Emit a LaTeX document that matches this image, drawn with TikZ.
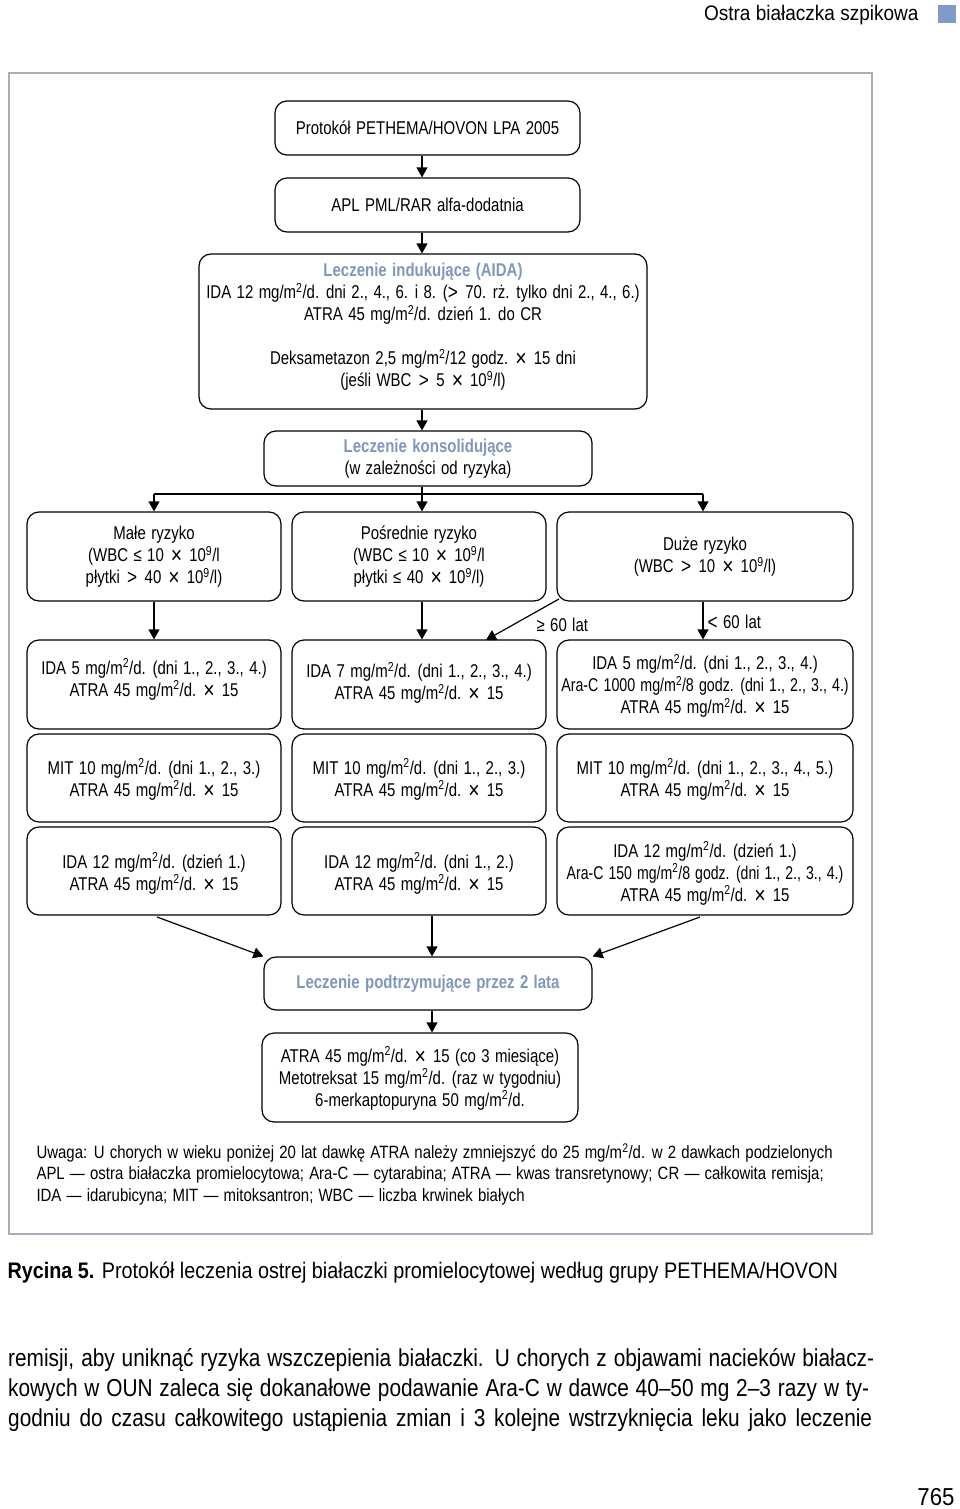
\documentclass[tikz,border=0pt]{standalone}
\usepackage{fontspec}
\setmainfont{Liberation Sans}[FakeStretch=0.81, WordSpace=1.3]
\newfontfamily\bodyfont{Liberation Sans}[FakeStretch=0.85]
\newfontfamily\hdrfont{Liberation Sans}[FakeStretch=0.905]
\newfontfamily\capfont{Liberation Sans}[FakeStretch=0.88]
\newfontfamily\notefont{Liberation Sans}[FakeStretch=0.84, WordSpace=1.25]
\usetikzlibrary{arrows.meta,calc}
\definecolor{ttl}{HTML}{7F98BA}
\definecolor{frm}{HTML}{A8AFBA}
\definecolor{sq}{HTML}{7F9BC8}
\newcommand{\sqm}{m\textsuperscript{2}}
\newcommand{\tnine}{10\textsuperscript{9}}
\newcommand{\bgt}{\raisebox{-0.05em}{\scalebox{1.15}{>}}}
\newcommand{\gt}{\hspace{0.4em}\bgt\hspace{0.4em}}
\newcommand{\tm}{\hspace{0.38em}\raisebox{-0.1em}{\scalebox{1.3}{×}}\hspace{0.38em}}
\newcommand{\bx}[6]{%
  \node[box, minimum width=#3pt, minimum height=#4pt] (#1) at (#2) {};
  \node[txt] (#1t) at ($(#1.center)+(0,#5)$) {#6};}
\begin{document}
\begin{tikzpicture}[x=1pt,y=-1pt,
  box/.style={draw, rounded corners=12pt, line width=1.2pt, inner sep=0pt},
  txt/.style={align=center, inner sep=0pt, font=\fontsize{18.5}{22}\selectfont},
  arr/.style={line width=1.2pt, -{Triangle[width=11pt,length=10pt]}},
  ln/.style={line width=1.2pt}]
\useasboundingbox (0,0) rectangle (960,1509);
% header
\node[anchor=east, font=\hdrfont\fontsize{21}{24}\selectfont] (hdr) at (922,15) {Ostra białaczka szpikowa};
\fill[sq] (938,5) rectangle (956,23);
% frame
\draw[frm, line width=1.5pt] (9,73) rectangle (872,1234);
% boxes
\bx{b1}{427.5,128}{305}{54}{0}{Protokół PETHEMA/HOVON LPA 2005}
\bx{b2}{427.5,205}{305}{54}{0}{APL PML/RAR alfa-dodatnia}
\bx{b3}{423,331.5}{448}{155}{-5}{%
  {\color{ttl}\bfseries Leczenie indukujące (AIDA)}\\
  IDA 12 mg/\sqm/d. dni 2., 4., 6. i 8. (\bgt\hspace{0.4em}70. rż. tylko dni 2., 4., 6.)\\
  ATRA 45 mg/\sqm/d. dzień 1. do CR\\[22pt]
  Deksametazon 2,5 mg/\sqm/12 godz.\tm15 dni\\
  (jeśli WBC\gt5\tm\tnine/l)}
\bx{b4}{428,458.5}{328}{55}{0}{%
  {\color{ttl}\bfseries Leczenie konsolidujące}\\(w zależności od ryzyka)}
% row 1
\bx{r1a}{154,556.5}{254}{89}{0}{Małe ryzyko\\(WBC ≤ 10\tm\tnine/l\\płytki\gt40\tm\tnine/l)}
\bx{r1b}{419,556.5}{254}{89}{0}{Pośrednie ryzyko\\(WBC ≤ 10\tm\tnine/l\\płytki ≤ 40\tm\tnine/l)}
\bx{r1c}{705,556.5}{296}{89}{0}{Duże ryzyko\\(WBC\gt10\tm\tnine/l)}
% row 2
\bx{r2a}{154,684.5}{254}{89}{-5}{IDA 5 mg/\sqm/d. (dni 1., 2., 3., 4.)\\ATRA 45 mg/\sqm/d.\tm15}
\bx{r2b}{419,684.5}{254}{89}{-1.5}{IDA 7 mg/\sqm/d. (dni 1., 2., 3., 4.)\\ATRA 45 mg/\sqm/d.\tm15}
\bx{r2c}{705,684.5}{296}{89}{1.5}{IDA 5 mg/\sqm/d. (dni 1., 2., 3., 4.)\\\scalebox{0.95}[1]{Ara-C 1000 mg/\sqm/8 godz. (dni 1., 2., 3., 4.)}\\ATRA 45 mg/\sqm/d.\tm15}
% row 3
\bx{r3a}{154,778}{254}{88}{1.5}{MIT 10 mg/\sqm/d. (dni 1., 2., 3.)\\ATRA 45 mg/\sqm/d.\tm15}
\bx{r3b}{419,778}{254}{88}{1.5}{MIT 10 mg/\sqm/d. (dni 1., 2., 3.)\\ATRA 45 mg/\sqm/d.\tm15}
\bx{r3c}{705,778}{296}{88}{1.5}{MIT 10 mg/\sqm/d. (dni 1., 2., 3., 4., 5.)\\ATRA 45 mg/\sqm/d.\tm15}
% row 4
\bx{r4a}{154,871}{254}{88}{2.5}{IDA 12 mg/\sqm/d. (dzień 1.)\\ATRA 45 mg/\sqm/d.\tm15}
\bx{r4b}{419,871}{254}{88}{2.5}{IDA 12 mg/\sqm/d. (dni 1., 2.)\\ATRA 45 mg/\sqm/d.\tm15}
\bx{r4c}{705,871}{296}{88}{2.5}{IDA 12 mg/\sqm/d. (dzień 1.)\\\scalebox{0.94}[1]{Ara-C 150 mg/\sqm/8 godz. (dni 1., 2., 3., 4.)}\\ATRA 45 mg/\sqm/d.\tm15}
% maintenance
\bx{m1}{428,983.5}{328}{53}{0}{{\color{ttl}\bfseries Leczenie podtrzymujące przez 2 lata}}
\bx{m2}{420,1077.5}{316}{89}{1}{ATRA 45 mg/\sqm/d.\tm15 (co 3 miesiące)\\Metotreksat 15 mg/\sqm/d. (raz w tygodniu)\\6-merkaptopuryna 50 mg/\sqm/d.}
% connectors
\draw[arr] (b1.south -| 422,0) -- (b2.north -| 422,0);
\draw[arr] (b2.south -| 422,0) -- (b3.north -| 422,0);
\draw[arr] (b3.south -| 422,0) -- (b4.north -| 422,0);
\coordinate (br) at (422,494);
\draw[ln] (b4.south -| br) -- (br);
\draw[ln] (br -| r1a.north) -- (br -| 703,0);
\draw[arr] (br -| r1a.north) -- (r1a.north);
\draw[arr] (br) -- (r1b.north -| br);
\draw[arr] (br -| 703,0) -- (r1c.north -| 703,0);
\draw[arr] (r1a.south) -- (r2a.north);
\draw[arr] (r1b.south -| 422,0) -- (r2b.north -| 422,0);
\coordinate (dg1) at (559,599);
\coordinate (dg2) at (486,640);
\draw[arr] (dg1) -- (dg2);
\draw[arr] (r1c.south -| 703,0) -- (r2c.north -| 703,0);
\node[font=\fontsize{18.5}{22}\selectfont, anchor=west] (l60a) at (533,625) {≥ 60 lat};
\node[font=\fontsize{18.5}{22}\selectfont, anchor=west] (l60b) at (704,622) {\raisebox{-0.05em}{\scalebox{1.15}{<}}\hspace{0.3em}60 lat};
\coordinate (s1) at (157,917);
\coordinate (s3) at (700,917);
\draw[arr] (s1) -- (m1.north west);
\draw[arr] (r4b.south -| 432,0) -- (m1.north -| 432,0);
\draw[arr] (s3) -- (m1.north east);
\draw[arr] (m1.south -| 432,0) -- (m2.north -| 432,0);
% notes
\node[anchor=west, font=\notefont\fontsize{17.8}{22}\selectfont] (n1) at (33,1153) {Uwaga: U chorych w wieku poniżej 20 lat dawkę ATRA należy zmniejszyć do 25 mg/\sqm/d. w 2 dawkach podzielonych};
\node[anchor=west, font=\notefont\fontsize{17.8}{22}\selectfont] (n2) at (33,1175) {APL — ostra białaczka promielocytowa; Ara-C — cytarabina; ATRA — kwas transretynowy; CR — całkowita remisja;};
\node[anchor=west, font=\notefont\fontsize{17.8}{22}\selectfont] (n3) at (33,1197) {IDA — idarubicyna; MIT — mitoksantron; WBC — liczba krwinek białych};
% caption
\node[anchor=west, font=\capfont\fontsize{22.5}{26}\selectfont] (cap) at (4,1273) {\textbf{Rycina 5.} Protokół leczenia ostrej białaczki promielocytowej według grupy PETHEMA/HOVON};
% body text
\node[anchor=west, inner sep=0pt, font=\bodyfont\fontsize{24.5}{30}\selectfont] (t1) at (8,1360) {\makebox[866pt][s]{remisji, aby uniknąć ryzyka wszczepienia białaczki. U chorych z objawami nacieków białacz-}};
\node[anchor=west, inner sep=0pt, font=\bodyfont\fontsize{24.5}{30}\selectfont] (t2) at (8,1390) {\makebox[861pt][s]{kowych w OUN zaleca się dokanałowe podawanie Ara-C w dawce 40–50 mg 2–3 razy w ty-}};
\node[anchor=west, inner sep=0pt, font=\bodyfont\fontsize{24.5}{30}\selectfont] (t3) at (8,1420) {\makebox[864pt][s]{godniu do czasu całkowitego ustąpienia zmian i 3 kolejne wstrzyknięcia leku jako leczenie}};
\node[anchor=east, font=\hdrfont\fontsize{24.5}{30}\selectfont] (pg) at (958,1497) {765};
\end{tikzpicture}
\end{document}
